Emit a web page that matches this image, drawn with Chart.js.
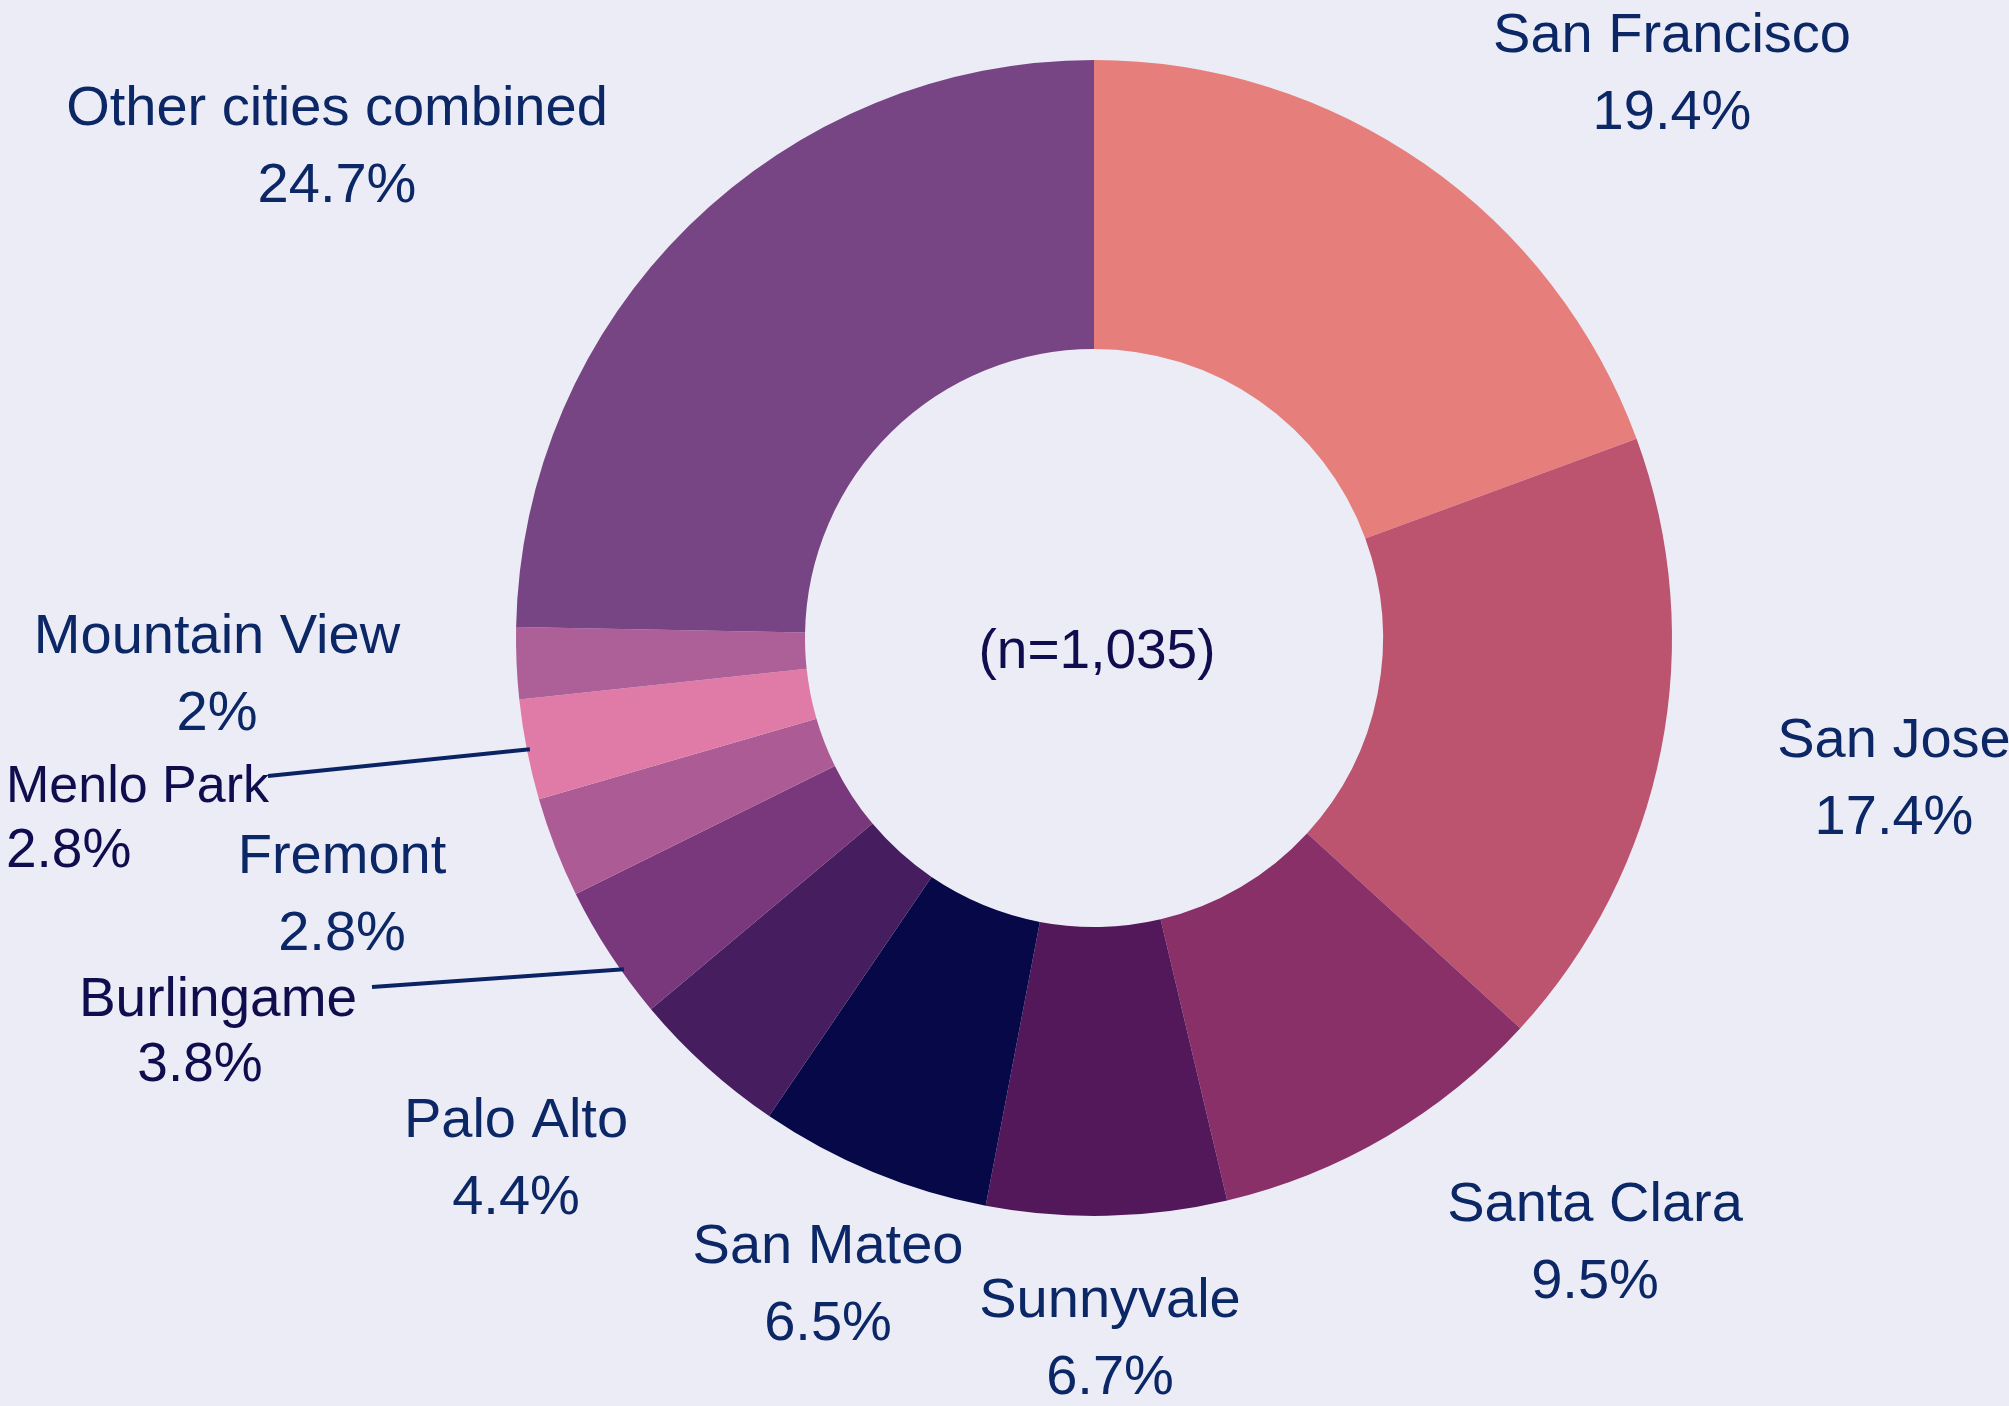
<!DOCTYPE html>
<html>
<head>
<meta charset="utf-8">
<script src="https://cdn.jsdelivr.net/npm/chart.js@4.4.1/dist/chart.umd.min.js"></script>
<style>
  html, body { margin: 0; padding: 0; background: #ececf7; }
  #wrap { width: 2009px; height: 1406px; }
</style>
</head>
<body>
<div id="wrap"><canvas id="citychart" width="2009" height="1406"></canvas></div>
<script>
// data (percent of respondents)
const cities = ['San Francisco', 'San Jose', 'Santa Clara', 'Sunnyvale', 'San Mateo', 'Palo Alto',
                'Burlingame', 'Fremont', 'Menlo Park', 'Mountain View', 'Other cities combined'];
const shares = [19.4, 17.4, 9.5, 6.7, 6.5, 4.4, 3.8, 2.8, 2.8, 2, 24.7];
const centerText = '(n=1,035)';

const sliceColors = ['#e67f7b', '#bc5470', '#8a3068', '#52185a', '#060848', '#461d5f',
                     '#7a387c', '#ad5b94', '#e07ba8', '#ad5f98', '#784584'];

// label placement, offsets from the doughnut centre (x = text anchor, y = first baseline)
const labelPos = [
    {dx: 578, dy: -586}, {dx: 800, dy: 119}, {dx: 501, dy: 583}, {dx: 16, dy: 679},
    {dx: -266, dy: 625}, {dx: -578, dy: 499}, {dx: -876, dy: 378}, {dx: -752, dy: 235},
    {dx: -1088, dy: 164, left: true}, {dx: -877, dy: 15}, {dx: -757, dy: -513}
];
const leaderFrom = { 6: {x: 372, y: 987}, 8: {x: 268, y: 776} };

const navy = '#0b2765';
const dark = '#0f0d4e';

const labelPlugin = {
    id: 'cityLabels',
    afterDatasetsDraw(chart) {
        const ctx = chart.ctx;
        const meta = chart.getDatasetMeta(0);
        const cx = meta.data[0].x, cy = meta.data[0].y;
        ctx.save();
        meta.data.forEach((arc, i) => {
            const p = labelPos[i];
            const x = cx + p.dx, y = cy + p.dy;
            const special = (i === 6 || i === 8);
            const size = i === 8 ? 52 : (i === 6 ? 55 : 56);
            const gap = special ? 65 : 77;
            ctx.fillStyle = special ? dark : navy;
            ctx.font = size + 'px "Liberation Sans", Arial, sans-serif';
            ctx.textAlign = p.left ? 'left' : 'center';
            ctx.textBaseline = 'alphabetic';
            ctx.fillText(cities[i], x, y);
            let px = x;
            if (i === 6) px = x - 18;
            if (i === 8) ctx.font = '55px "Liberation Sans", Arial, sans-serif';
            ctx.fillText(shares[i] + '%', px, y + gap);

            if (leaderFrom[i]) {
                // point on the outer rim, a bit below the slice middle like the original
                const mid = arc.startAngle + (arc.endAngle - arc.startAngle) * (i === 6 ? 0.35 : 0.5);
                const ex = arc.x + Math.cos(mid) * (arc.outerRadius - 3);
                const ey = arc.y + Math.sin(mid) * (arc.outerRadius - 3);
                ctx.strokeStyle = '#0a2463';
                ctx.lineWidth = 4;
                ctx.beginPath();
                ctx.moveTo(leaderFrom[i].x, leaderFrom[i].y);
                ctx.lineTo(ex, ey);
                ctx.stroke();
            }
        });
        ctx.fillStyle = dark;
        ctx.font = '55px "Liberation Sans", Arial, sans-serif';
        ctx.textAlign = 'center';
        ctx.fillText(centerText, cx + 3, cy + 30);
        ctx.restore();
    }
};

const ctx = document.getElementById('citychart').getContext('2d');
const citychart = new Chart(ctx, {
    type: 'doughnut',
    data: {
        labels: cities,
        datasets: [{
            data: shares,
            backgroundColor: sliceColors,
            borderWidth: 0
        }]
    },
    options: {
        responsive: false,
        animation: false,
        cutout: '50%',
        layout: { padding: { top: 60, bottom: 190, left: 516, right: 337 } },
        plugins: {
            legend: { display: false },
            tooltip: { enabled: false }
        }
    },
    plugins: [labelPlugin]
});
</script>
</body>
</html>
